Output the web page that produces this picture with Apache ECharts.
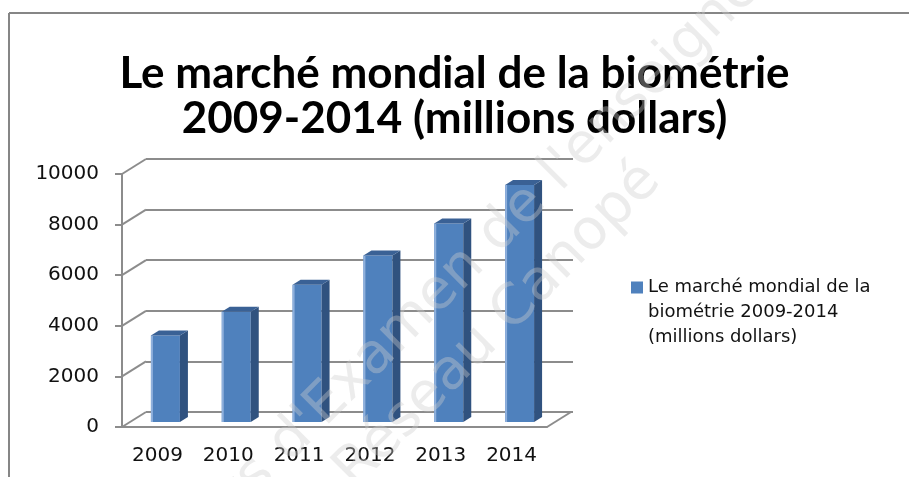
<!DOCTYPE html>
<html>
<head>
  <meta charset="utf-8">
  <script src="https://cdn.jsdelivr.net/npm/echarts@6/dist/echarts.min.js"></script>
  <style>
    html, body { margin: 0; padding: 0; background: #fff; }
  </style>
  <title>Le marché mondial de la biométrie</title>
  <script type="text/javascript">

    // data
    const years = ['2009', '2010', '2011', '2012', '2013', '2014'];
    const values = [3420, 4360, 5420, 6580, 7850, 9370];
    const yTicks = [0, 2000, 4000, 6000, 8000, 10000];
    const seriesName = 'Le marché mondial de la biométrie 2009-2014 (millions dollars)';
    const titleLines = ['Le marché mondial de la biométrie', '2009-2014 (millions dollars)'];
    const legendLines = ['Le marché mondial de la', 'biométrie 2009-2014', '(millions dollars)'];
    const watermark = ["Sujets d'Examen de l'enseignement", 'Réseau Canopé'];

    const GRID_COLOR = '#8c8c8c';
    const WALL_DX = 24, WALL_DY = 15;   // depth of the back wall
    const BAR_DX = 8, BAR_DY = 5;       // depth of each column
    const BAR_W = 29;

    function init() {
      const chart = echarts.init(document.getElementById('main'));

      const wmStyle = {
        fontFamily: 'DejaVu Sans',
        fontSize: 56,
        fill: 'rgba(205,205,205,0.38)',
        align: 'center',
        verticalAlign: 'middle'
      };

      const option = {
        animation: false,
        title: {
          text: titleLines.join('\n'),
          left: 'center',
          top: 46,
          textStyle: {
            fontFamily: 'Lato',
            fontWeight: 'bold',
            fontSize: 44,
            lineHeight: 45,
            color: '#000'
          }
        },
        legend: {
          left: 626,
          top: 220,
          icon: 'rect',
          itemWidth: 12,
          itemHeight: 12,
          data: [seriesName],
          // two empty lines first so the marker sits by the first line
          formatter: () => '\n\n' + legendLines.join('\n'),
          textStyle: {
            fontFamily: 'DejaVu Sans',
            fontSize: 18,
            lineHeight: 25,
            color: '#111'
          }
        },
        grid: [
          { left: 122, right: 362, top: 174, bottom: 50 },
          { left: 146, right: 336, top: 159, bottom: 65 }
        ],
        xAxis: [
          {
            gridIndex: 0,
            type: 'category',
            data: years,
            axisLine: { lineStyle: { color: GRID_COLOR, width: 2 } },
            axisTick: { length: 6, lineStyle: { color: GRID_COLOR, width: 2 } },
            axisLabel: { fontFamily: 'DejaVu Sans', fontSize: 20, color: '#111', margin: 19 }
          },
          { gridIndex: 1, type: 'category', data: years, show: false }
        ],
        yAxis: [
          {
            gridIndex: 0,
            type: 'value',
            min: 0,
            max: 10000,
            interval: 2000,
            axisLine: { show: true, lineStyle: { color: GRID_COLOR, width: 2 } },
            axisTick: { show: true, length: 7, lineStyle: { color: GRID_COLOR, width: 2 } },
            splitLine: { show: false },
            axisLabel: {
              fontFamily: 'DejaVu Sans', fontSize: 20, color: '#111', margin: 23,
              padding: [4, 0, 0, 0],
              formatter: v => String(v)
            }
          },
          {
            gridIndex: 1,
            type: 'value',
            min: 0,
            max: 10000,
            interval: 2000,
            axisLine: { show: false },
            axisTick: { show: false },
            axisLabel: { show: false },
            splitLine: { show: true, lineStyle: { color: GRID_COLOR, width: 2 } }
          }
        ],
        graphic: [
          { type: 'line', shape: { x1: 9, y1: 13, x2: 909, y2: 13 }, style: { stroke: '#868686', lineWidth: 2 }, silent: true },
          { type: 'line', shape: { x1: 9, y1: 13, x2: 9, y2: 477 }, style: { stroke: '#868686', lineWidth: 2 }, silent: true },
          { type: 'text', x: 500, y: 232, rotation: Math.PI / 4, z: 100, silent: true, style: Object.assign({ text: watermark[0] }, wmStyle) },
          { type: 'text', x: 498, y: 326, rotation: Math.PI / 4, z: 100, silent: true, style: Object.assign({ text: watermark[1] }, wmStyle) }
        ],
        series: [
          {
            // side-wall and floor edges joining the front axis to the back wall
            type: 'custom',
            xAxisIndex: 0,
            yAxisIndex: 0,
            silent: true,
            data: yTicks.map(v => [0, v]),
            renderItem: function (params, api) {
              const cs = params.coordSys;
              const v = api.value(1);
              const y = api.coord([0, v])[1];
              const children = [{
                type: 'line',
                shape: { x1: cs.x, y1: y, x2: cs.x + WALL_DX, y2: y - WALL_DY },
                style: { stroke: GRID_COLOR, lineWidth: 2 }
              }];
              if (v === 0) {
                children.push({
                  type: 'line',
                  shape: { x1: cs.x + cs.width, y1: y, x2: cs.x + cs.width + WALL_DX, y2: y - WALL_DY },
                  style: { stroke: GRID_COLOR, lineWidth: 2 }
                });
              }
              return { type: 'group', children: children };
            },
            z: 1
          },
          {
            name: seriesName,
            type: 'custom',
            xAxisIndex: 0,
            yAxisIndex: 0,
            itemStyle: { color: '#4f81bd' },
            data: values.map((v, i) => [i, v]),
            renderItem: function (params, api) {
              const top = api.coord([api.value(0), api.value(1)]);
              const base = api.coord([api.value(0), 0]);
              const x0 = top[0] + BAR_DX - BAR_W / 2;
              const x1 = x0 + BAR_W;
              const yt = top[1] - BAR_DY;
              const yb = base[1] - BAR_DY;
              return {
                type: 'group',
                children: [
                  { type: 'rect', shape: { x: x0, y: yt, width: BAR_W, height: yb - yt }, style: { fill: '#4f81bd' } },
                  { type: 'rect', shape: { x: x0, y: yt, width: 2, height: yb - yt }, style: { fill: '#8fb0dc' } },
                  { type: 'polygon', shape: { points: [[x1, yt], [x1 + BAR_DX, yt - BAR_DY], [x1 + BAR_DX, yb - BAR_DY], [x1, yb]] }, style: { fill: '#30527f' } },
                  { type: 'polygon', shape: { points: [[x0, yt], [x0 + BAR_DX, yt - BAR_DY], [x1 + BAR_DX, yt - BAR_DY], [x1, yt]] }, style: { fill: '#3a6195' } }
                ]
              };
            },
            z: 2
          }
        ]
      };
      chart.setOption(option);
    }
  </script>
</head>
<body onload="init()">
  <div id="main" style="width: 909px; height: 477px;"></div>
</body>
</html>
